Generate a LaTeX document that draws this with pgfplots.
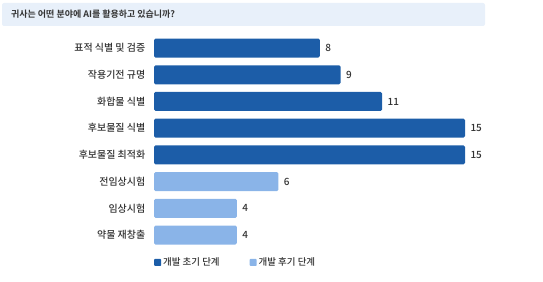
\documentclass[border=0pt]{standalone}
\usepackage{fontspec}
\setmainfont{Noto Sans CJK KR}[UprightFont=* Medium, BoldFont=* Bold]
\usepackage{pgfplots}
\pgfplotsset{compat=1.18}
\definecolor{early}{HTML}{1C5DA8}
\definecolor{late}{HTML}{8AB4E8}
\definecolor{titlebg}{HTML}{E8F0FA}
\definecolor{txt}{HTML}{333333}
\begin{document}
\begin{tikzpicture}
\path[use as bounding box] (0,0) rectangle (543bp,282bp);
\fill[titlebg, rounded corners=2bp] (2bp,256bp) rectangle (485bp,279bp);
\node[anchor=west, font=\fontsize{9}{10}\selectfont\bfseries, text=txt, inner sep=0] at (11bp,268bp) {귀사는 어떤 분야에 AI를 활용하고 있습니까?};
\begin{axis}[
  at={(154bp,33.6bp)}, anchor=south west,
  scale only axis, width=311bp, height=213.7bp,
  xbar, bar width=19bp, bar shift=0pt,
  xmin=0, xmax=15, ymin=-0.5, ymax=7.5, y dir=reverse,
  axis line style={draw=none}, tick style={draw=none},
  xtick=\empty,
  ytick={0,...,7},
  yticklabels={표적 식별 및 검증, 작용기전 규명, 화합물 식별, 후보물질 식별, 후보물질 최적화, 전임상시험, 임상시험, 약물 재창출},
  yticklabel style={font=\fontsize{10}{12}\selectfont, text=txt, xshift=-1bp},
  nodes near coords,
  every node near coord/.append style={font=\fontsize{10}{12}\selectfont, text=txt, xshift=2bp},
  /pgf/number format/assume math mode=true,
  legend style={at={(0,0)}, anchor=west, yshift=-14bp, draw=none, fill=none, inner sep=0pt, font=\fontsize{9.5}{11}\selectfont, text=txt, /tikz/every even column/.append style={column sep=28bp}},
  legend columns=2,
  legend image code/.code={\fill[#1, rounded corners=0.8bp] (0bp,-3.5bp) rectangle (7bp,3.5bp);},
]
\addplot[fill=early, draw=none, rounded corners=1.5bp] coordinates {(8,0) (9,1) (11,2) (15,3) (15,4)};
\addplot[fill=late, draw=none, rounded corners=1.5bp] coordinates {(6,5) (4,6) (4,7)};
\legend{개발 초기 단계, 개발 후기 단계}
\end{axis}
\end{tikzpicture}
\end{document}
